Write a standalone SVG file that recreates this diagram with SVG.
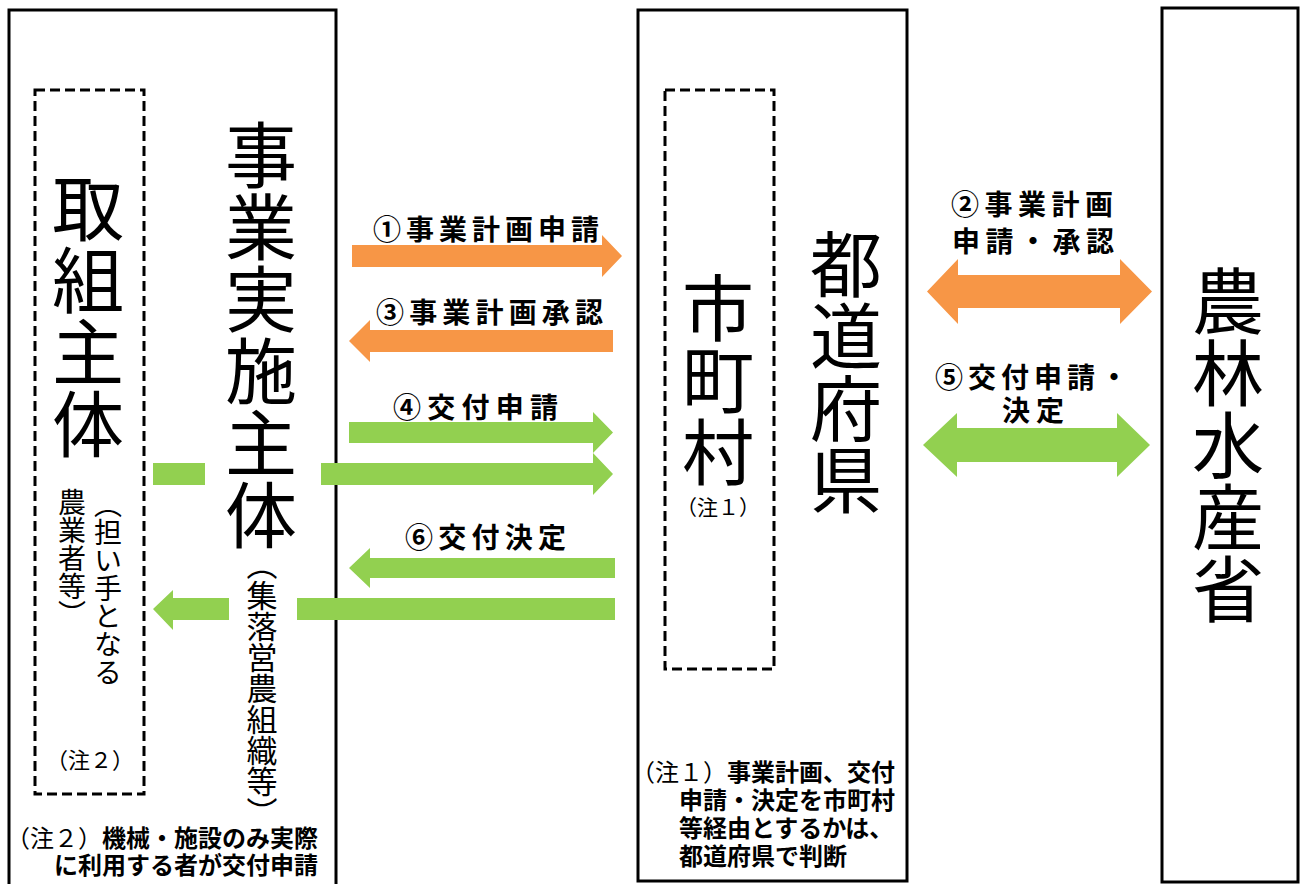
<svg xmlns="http://www.w3.org/2000/svg" width="1301" height="884" viewBox="0 0 1301 884">
<style>
.box{fill:none;stroke:#000;stroke-width:3}
.dash{fill:none;stroke:#000;stroke-width:3;stroke-dasharray:10 5}
.t{font-family:"Noto Sans CJK JP","Noto Sans CJK SC",sans-serif;fill:#000}
.big{font-size:72px;writing-mode:vertical-rl}
.vs{font-size:28px;writing-mode:vertical-rl}
.lbl{font-size:28px;font-weight:700}
.note{font-size:24px;font-weight:700}
.nn{font-weight:400}
.or{fill:#F79646}
.gr{fill:#92D050}
</style>
<rect width="1301" height="884" fill="#fff"/>
<g id="node-jigyo-jisshi">
<rect class="box" x="9" y="10" width="327" height="885"/>
<text class="t big" x="261" y="119">事業実施主体</text>
<text class="t" style="font-size:31px;writing-mode:vertical-rl" x="262" y="549">（集落営農組織等）</text>
<text class="t note" x="6" y="847"><tspan class="nn">（注２）</tspan>機械・施設のみ実際<tspan x="54" y="874">に利用する者が交付申請</tspan></text>
</g>
<g id="node-torikumi">
<rect class="dash" x="35" y="90" width="109" height="704"/>
<text class="t big" x="88" y="172">取組主体</text>
<text class="t vs" x="108" y="490">（担い手となる</text>
<text class="t vs" x="72" y="488">農業者等）</text>
<text class="t" style="font-size:22px" x="90" y="768" text-anchor="middle">（注２）</text>
</g>
<g id="node-todofuken">
<rect class="box" x="638" y="10" width="269" height="871"/>
<text class="t big" x="846" y="228">都道府県</text>
<text class="t note" x="631" y="781"><tspan class="nn">（注１）</tspan>事業計画、交付<tspan x="679" y="809">申請・決定を市町村</tspan><tspan x="679" y="837">等経由とするかは、</tspan><tspan x="679" y="865">都道府県で判断</tspan></text>
</g>
<g id="node-shichoson">
<rect class="dash" x="665" y="90" width="109" height="579"/>
<text class="t big" x="718" y="272">市町村</text>
<text class="t" style="font-size:21px" x="718" y="515" text-anchor="middle">（注１）</text>
</g>
<g id="node-norin">
<rect class="box" x="1162" y="8" width="136" height="874"/>
<text class="t big" x="1228" y="265">農林水産省</text>
</g>
<g id="connectors">
<polygon class="or" points="352,245 602,245 602,235 622,256 602,277 602,267 352,267"/>
<polygon class="or" points="613,330 370,330 370,320 349,341 370,362 370,352 613,352"/>
<polygon class="gr" points="349,422 593,422 593,412 613,432.5 593,453 593,443 349,443"/>
<polygon class="gr" points="321,463 593,463 593,453 613,474 593,495 593,485 321,485"/>
<rect class="gr" x="153" y="463" width="52" height="22"/>
<polygon class="gr" points="615,558 370,558 370,548 349,568 370,588 370,578 615,578"/>
<rect class="gr" x="297" y="598" width="318" height="22"/>
<polygon class="gr" points="229,598 173,598 173,590 153,609 173,630 173,620 229,620"/>
<polygon class="or" points="927,291.5 958,259 958,275 1120,275 1120,259 1152,291.5 1120,324 1120,308 958,308 958,324"/>
<polygon class="gr" points="923,445 957,413 957,428 1117,428 1117,413 1150,445 1117,477 1117,462 957,462 957,477"/>
<text class="t lbl" x="373" y="240" textLength="226" lengthAdjust="spacing">①事業計画申請</text>
<text class="t lbl" x="376" y="323" textLength="227" lengthAdjust="spacing">③事業計画承認</text>
<text class="t lbl" x="393" y="418" textLength="165" lengthAdjust="spacing">④交付申請</text>
<text class="t lbl" x="405" y="548" textLength="161" lengthAdjust="spacing">⑥交付決定</text>
<text class="t lbl" x="951" y="215" textLength="162" lengthAdjust="spacing">②事業計画</text>
<text class="t lbl" x="952" y="252" textLength="162" lengthAdjust="spacing">申請・承認</text>
<text class="t lbl" x="935" y="388" textLength="193" lengthAdjust="spacing">⑤交付申請・</text>
<text class="t lbl" x="1002" y="421" textLength="62" lengthAdjust="spacing">決定</text>
</g>
</svg>
